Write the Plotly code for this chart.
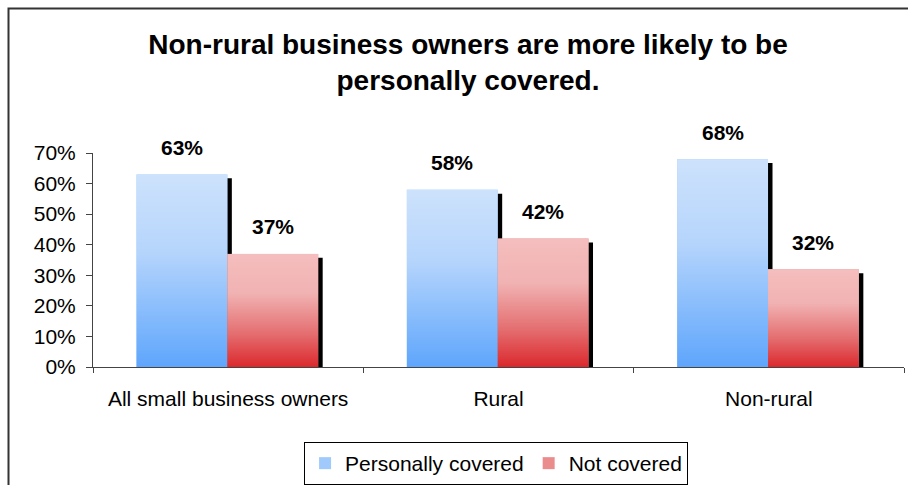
import base64
import struct
import zlib

import plotly.graph_objects as go

# ---- data -------------------------------------------------------------
categories = ["All small business owners", "Rural", "Non-rural"]
personally_covered = [63, 58, 68]
not_covered = [37, 42, 32]
y_ticks = [0, 10, 20, 30, 40, 50, 60, 70]

title_text = ("Non-rural business owners are more likely to be<br>"
              "personally covered.")

# ---- styling ----------------------------------------------------------
FONT = "Liberation Sans, Arial, Helvetica, sans-serif"
BAR_W = 0.336          # bar width in category units
BLUE_OFF = -0.339      # left edge of the blue bar relative to the category centre
RED_OFF = -0.003       # left edge of the red bar
SHADOW_DX = 0.0166     # drop shadow shift to the right (category units)
SHADOW_DY = 1.3        # drop shadow shift downwards (axis units)

blue_stops = [(0.0, (205, 226, 252)), (0.4, (182, 213, 252)), (1.0, (95, 166, 252))]
red_stops = [(0.0, (245, 190, 190)), (0.35, (241, 178, 178)),
             (0.7, (228, 112, 114)), (1.0, (219, 42, 46))]


def mix(stops, t):
    for (t0, c0), (t1, c1) in zip(stops, stops[1:]):
        if t <= t1:
            f = (t - t0) / (t1 - t0) if t1 > t0 else 0
            return tuple(round(a + (b - a) * f) for a, b in zip(c0, c1))
    return stops[-1][1]


def gradient_png(stops, h=160, w=4):
    """Tiny vertical-gradient PNG (top -> bottom) as a data URI."""
    raw = b"".join(b"\x00" + bytes(mix(stops, i / (h - 1))) * w for i in range(h))

    def chunk(tag, data):
        return (struct.pack(">I", len(data)) + tag + data
                + struct.pack(">I", zlib.crc32(tag + data) & 0xFFFFFFFF))

    png = (b"\x89PNG\r\n\x1a\n"
           + chunk(b"IHDR", struct.pack(">IIBBBBB", w, h, 8, 2, 0, 0, 0))
           + chunk(b"IDAT", zlib.compress(raw, 9))
           + chunk(b"IEND", b""))
    return "data:image/png;base64," + base64.b64encode(png).decode()


blue_img = gradient_png(blue_stops)
red_img = gradient_png(red_stops)
xpos = list(range(len(categories)))

fig = go.Figure()

# drop shadows
for vals, off in ((personally_covered, BLUE_OFF), (not_covered, RED_OFF)):
    fig.add_trace(go.Bar(
        x=xpos, y=[v - SHADOW_DY for v in vals], width=BAR_W, offset=off + SHADOW_DX,
        marker=dict(color="black", line=dict(width=0)),
        showlegend=False, hoverinfo="skip",
    ))

# the bars themselves
fig.add_trace(go.Bar(
    x=xpos, y=personally_covered, width=BAR_W, offset=BLUE_OFF,
    name="Personally covered",
    marker=dict(color="rgb(160,202,252)", line=dict(width=0)),
))
fig.add_trace(go.Bar(
    x=xpos, y=not_covered, width=BAR_W, offset=RED_OFF,
    name="Not covered",
    marker=dict(color="rgb(234,140,140)", line=dict(width=0)),
))

# gradient fills laid over each bar, sized by the bar's value on the axes
images = []
for vals, off, src in ((personally_covered, BLUE_OFF, blue_img),
                       (not_covered, RED_OFF, red_img)):
    for i, v in zip(xpos, vals):
        images.append(dict(
            source=src, xref="x", yref="y", x=i + off, y=v,
            sizex=BAR_W, sizey=v, xanchor="left", yanchor="top",
            sizing="stretch", layer="above",
        ))

# value labels above the bars
annotations = []
for vals, off in ((personally_covered, BLUE_OFF), (not_covered, RED_OFF)):
    for i, v in zip(xpos, vals):
        annotations.append(dict(
            x=i + off + BAR_W / 2, y=v, xref="x", yref="y",
            text=f"{v}%", showarrow=False, yanchor="middle", yshift=27,
            font=dict(family=FONT, size=21, color="black", weight="bold"),
        ))

fig.update_layout(
    width=908, height=485,
    margin=dict(l=93, r=4, t=153, b=118, autoexpand=False),
    paper_bgcolor="white", plot_bgcolor="white",
    barmode="overlay",
    images=images,
    annotations=annotations,
    title=dict(
        text=title_text, xref="container", x=468 / 908, xanchor="center",
        yref="container", y=1 - 54 / 485, yanchor="top",
        font=dict(family=FONT, size=28, color="black", weight="bold"),
    ),
    font=dict(family=FONT, size=21, color="black"),
    legend=dict(
        orientation="h", x=0.497, xanchor="center",
        yref="container", y=(485 - 442) / 485, yanchor="top",
        bordercolor="black", borderwidth=1, bgcolor="white",
        font=dict(family=FONT, size=21, color="black"),
        itemsizing="constant", traceorder="normal",
    ),
    xaxis=dict(
        range=[-0.5, 2.5], tickmode="array", tickvals=xpos, ticktext=categories,
        ticks="", showline=True, linecolor="#444", linewidth=1,
        showgrid=False, zeroline=False, fixedrange=True, automargin=False,
        minor=dict(tickmode="linear", tick0=-0.5, dtick=1, ticks="outside",
                   ticklen=5, tickcolor="#444", tickwidth=1, showgrid=False),
        ticklabelstandoff=13,
    ),
    yaxis=dict(
        range=[0, 70], tickmode="array", tickvals=y_ticks,
        ticktext=[f"{t}%" for t in y_ticks],
        ticks="outside", ticklen=6, tickcolor="#444", tickwidth=1,
        showline=True, linecolor="#444", linewidth=1,
        showgrid=False, zeroline=False, fixedrange=True, automargin=False,
        ticklabelstandoff=6,
    ),
    shapes=[dict(
        type="rect", xref="paper", yref="paper",
        x0=(8.5 - 93) / 811, x1=1.3, y0=-1.0, y1=(367 - 8.5) / 214,
        line=dict(color="#333", width=2), fillcolor="rgba(0,0,0,0)", layer="above",
    )],
)

fig.write_html("out.html")
